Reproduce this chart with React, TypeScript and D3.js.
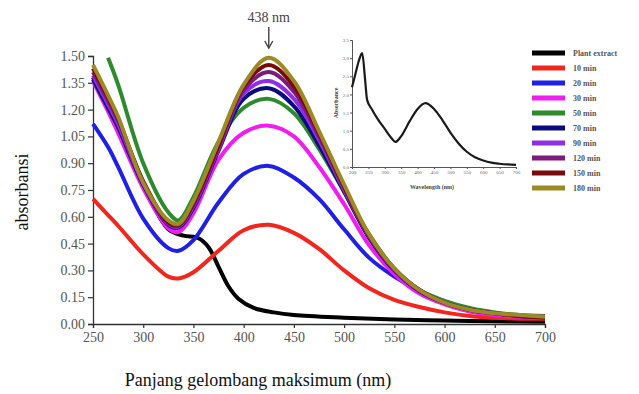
import React, { useEffect, useRef } from 'react';
import * as d3 from 'd3';

// Wavelength grid shared by the time series (nm)
const WAVELENGTHS = [250, 265, 275, 300, 325, 335, 350, 375, 400, 425, 450, 475, 500, 525, 550, 575, 600, 625, 650, 675, 700];

// Plant extract has its own grid (sharp drop near 370 nm)
const EXTRACT_WL = [250, 275, 300, 325, 340, 355, 365, 375, 385, 395, 410, 430, 450, 500, 550, 600, 650, 700];
const EXTRACT_ABS = [1.38, 1.08, 0.78, 0.53, 0.495, 0.48, 0.43, 0.32, 0.21, 0.14, 0.09, 0.065, 0.05, 0.035, 0.025, 0.02, 0.015, 0.012];

const MIN_10 = [0.70, 0.61, 0.55, 0.39, 0.265, 0.255, 0.29, 0.41, 0.525, 0.555, 0.51, 0.42, 0.30, 0.20, 0.135, 0.095, 0.065, 0.045, 0.035, 0.03, 0.03];
const MIN_20 = [1.12, 0.99, 0.88, 0.59, 0.425, 0.41, 0.47, 0.68, 0.84, 0.885, 0.82, 0.70, 0.53, 0.37, 0.265, 0.185, 0.125, 0.085, 0.055, 0.045, 0.04];
const MIN_30 = [1.36, 1.19, 1.07, 0.76, 0.535, 0.515, 0.62, 0.92, 1.07, 1.11, 1.05, 0.88, 0.67, 0.44, 0.28, 0.17, 0.11, 0.07, 0.05, 0.04, 0.035];
const MIN_50 = [null, 1.49, 1.34, 0.90, 0.625, 0.58, 0.71, 1.02, 1.21, 1.26, 1.18, 0.98, 0.74, 0.50, 0.31, 0.19, 0.13, 0.09, 0.065, 0.05, 0.045];
const MIN_70 = [1.37, 1.21, 1.10, 0.78, 0.555, 0.54, 0.65, 0.97, 1.26, 1.32, 1.22, 1.00, 0.74, 0.48, 0.30, 0.185, 0.12, 0.08, 0.06, 0.045, 0.04];
const MIN_90 = [1.39, 1.23, 1.12, 0.79, 0.56, 0.545, 0.66, 0.98, 1.29, 1.36, 1.26, 1.03, 0.75, 0.49, 0.305, 0.19, 0.12, 0.08, 0.06, 0.045, 0.04];
const MIN_120 = [1.41, 1.25, 1.14, 0.79, 0.565, 0.55, 0.67, 0.99, 1.31, 1.41, 1.30, 1.05, 0.76, 0.49, 0.305, 0.19, 0.12, 0.08, 0.06, 0.045, 0.04];
const MIN_150 = [1.43, 1.27, 1.15, 0.80, 0.57, 0.555, 0.675, 1.00, 1.33, 1.45, 1.33, 1.07, 0.77, 0.495, 0.31, 0.19, 0.12, 0.08, 0.06, 0.045, 0.035];
const MIN_180 = [1.45, 1.28, 1.16, 0.79, 0.58, 0.56, 0.69, 1.02, 1.34, 1.49, 1.36, 1.08, 0.78, 0.50, 0.31, 0.19, 0.12, 0.08, 0.06, 0.05, 0.04];

const LABELS = ['Plant extract', '10 min', '20 min', '30 min', '50 min', '70 min', '90 min', '120 min', '150 min', '180 min'];
const COLORS = ['#000000', '#f2261c', '#1f1fe6', '#f01cf0', '#2d8a2d', '#0a0a80', '#8f2ee6', '#7d1a7d', '#7a0a0a', '#9c8a25'];

const Y_TICKS = [0, 0.15, 0.3, 0.45, 0.6, 0.75, 0.9, 1.05, 1.2, 1.35, 1.5];
const X_TICKS = [250, 300, 350, 400, 450, 500, 550, 600, 650, 700];

// Inset: plant extract full spectrum
const INSET_WL = [200, 210, 220, 231, 240, 246, 260, 280, 300, 320, 332, 350, 375, 400, 424, 450, 475, 500, 525, 550, 575, 600, 625, 650, 675, 700];
const INSET_ABS = [2.2, 2.55, 2.9, 3.14, 2.4, 1.85, 1.6, 1.3, 1.05, 0.8, 0.69, 0.85, 1.25, 1.6, 1.76, 1.6, 1.3, 0.95, 0.65, 0.42, 0.27, 0.18, 0.12, 0.09, 0.07, 0.06];
const INSET_Y_TICKS = [0, 0.5, 1, 1.5, 2, 2.5, 3, 3.5];
const INSET_X_TICKS = [200, 250, 300, 350, 400, 450, 500, 550, 600, 650, 700];

const SERIF = '"Liberation Serif", "Times New Roman", serif';

const App: React.FC = () => {
  const svgRef = useRef<SVGSVGElement>(null);

  useEffect(() => {
    if (!svgRef.current) return;
    const svg = d3.select(svgRef.current);
    svg.selectAll('*').remove();

    const x = d3.scaleLinear().domain([250, 700]).range([93, 545]);
    const y = d3.scaleLinear().domain([0, 1.5]).range([324, 56]);

    // axes
    const yAxis = svg.append('g')
      .attr('transform', 'translate(93,0)')
      .call(d3.axisLeft(y).tickValues(Y_TICKS).tickFormat(d3.format('.2f')).tickSize(5).tickPadding(3));
    const xAxis = svg.append('g')
      .attr('transform', 'translate(0,324)')
      .call(d3.axisBottom(x).tickValues(X_TICKS).tickFormat(d3.format('d')).tickSize(4).tickPadding(4));
    [yAxis, xAxis].forEach(g => {
      g.select('.domain').attr('stroke', '#333').attr('stroke-width', 1.3);
      g.selectAll('.tick line').attr('stroke', '#333').attr('stroke-width', 1.2);
      g.selectAll('.tick text')
        .attr('fill', '#555')
        .style('font-family', SERIF)
        .style('font-size', '14px');
    });

    // curves
    const line = d3.line<[number, number | null]>()
      .defined(d => d[1] !== null)
      .x(d => x(d[0]))
      .y(d => y(d[1] as number))
      .curve(d3.curveCatmullRom.alpha(0.5));

    const series: Array<[number, number | null][]> = [
      EXTRACT_WL.map((w, i) => [w, EXTRACT_ABS[i]]),
      ...[MIN_10, MIN_20, MIN_30, MIN_50, MIN_70, MIN_90, MIN_120, MIN_150, MIN_180]
        .map(vals => WAVELENGTHS.map((w, i) => [w, vals[i]] as [number, number | null])),
    ];

    svg.append('g')
      .selectAll('path')
      .data(series)
      .enter()
      .append('path')
      .attr('d', d => line(d))
      .attr('fill', 'none')
      .attr('stroke', (d, i) => COLORS[i])
      .attr('stroke-width', 4)
      .attr('stroke-linejoin', 'round');

    // peak annotation
    const peakX = x(425);
    svg.append('text')
      .attr('x', peakX)
      .attr('y', 22)
      .attr('text-anchor', 'middle')
      .style('font-family', SERIF)
      .style('font-size', '14px')
      .attr('fill', '#444')
      .text('438 nm');
    svg.append('line')
      .attr('x1', peakX).attr('x2', peakX)
      .attr('y1', 27).attr('y2', 48)
      .attr('stroke', '#444').attr('stroke-width', 1.4);
    svg.append('path')
      .attr('d', `M${peakX - 4},${41} L${peakX},${48} L${peakX + 4},${41}`)
      .attr('fill', 'none')
      .attr('stroke', '#444')
      .attr('stroke-width', 1.4);

    // inset
    const ix = d3.scaleLinear().domain([200, 700]).range([352, 516]);
    const iy = d3.scaleLinear().domain([0, 3.5]).range([167, 40]);
    const inset = svg.append('g');
    const iyAxis = inset.append('g')
      .attr('transform', 'translate(352,0)')
      .call(d3.axisLeft(iy).tickValues(INSET_Y_TICKS).tickFormat(d3.format('.1f')).tickSize(2).tickPadding(1));
    const ixAxis = inset.append('g')
      .attr('transform', 'translate(0,167)')
      .call(d3.axisBottom(ix).tickValues(INSET_X_TICKS).tickFormat(d3.format('d')).tickSize(2).tickPadding(1));
    [iyAxis, ixAxis].forEach(g => {
      g.select('.domain').attr('stroke', '#555').attr('stroke-width', 1);
      g.selectAll('.tick line').attr('stroke', '#555');
      g.selectAll('.tick text')
        .attr('fill', '#666')
        .style('font-family', SERIF)
        .style('font-size', '5px');
    });
    inset.append('path')
      .datum(INSET_WL.map((w, i) => [w, INSET_ABS[i]] as [number, number]))
      .attr('d', d3.line<[number, number]>().x(d => ix(d[0])).y(d => iy(d[1])).curve(d3.curveMonotoneX))
      .attr('fill', 'none')
      .attr('stroke', '#1a1a1a')
      .attr('stroke-width', 2.2);
    inset.append('text')
      .attr('transform', 'translate(338,103) rotate(-90)')
      .attr('text-anchor', 'middle')
      .style('font-family', SERIF)
      .style('font-size', '6px')
      .style('font-weight', 'bold')
      .attr('fill', '#444')
      .text('Absorbance');
    inset.append('text')
      .attr('x', 432)
      .attr('y', 189)
      .attr('text-anchor', 'middle')
      .style('font-family', SERIF)
      .style('font-size', '6px')
      .style('font-weight', 'bold')
      .attr('fill', '#444')
      .text('Wavelength (nm)');

    // legend
    const legend = svg.append('g')
      .selectAll('g')
      .data(LABELS)
      .enter()
      .append('g')
      .attr('transform', (d, i) => `translate(532,${53 + i * 15})`);
    legend.append('line')
      .attr('x1', 0).attr('x2', 33)
      .attr('stroke', (d, i) => COLORS[i])
      .attr('stroke-width', 5);
    legend.append('text')
      .attr('x', 41)
      .attr('dy', '0.35em')
      .style('font-family', SERIF)
      .style('font-size', '8px')
      .style('font-weight', 'bold')
      .attr('fill', '#555')
      .text(d => d);

    // axis titles
    svg.append('text')
      .attr('transform', 'translate(28,192) rotate(-90)')
      .attr('text-anchor', 'middle')
      .style('font-family', SERIF)
      .style('font-size', '18px')
      .attr('fill', '#111')
      .text('absorbansi');
    svg.append('text')
      .attr('x', 258)
      .attr('y', 386)
      .attr('text-anchor', 'middle')
      .style('font-family', SERIF)
      .style('font-size', '18px')
      .attr('fill', '#111')
      .text('Panjang gelombang maksimum (nm)');
  }, []);

  return (
    <svg
      ref={svgRef}
      width={639}
      height={394}
      style={{ position: 'absolute', left: 0, top: 0, background: '#fff' }}
    />
  );
};

export default App;
